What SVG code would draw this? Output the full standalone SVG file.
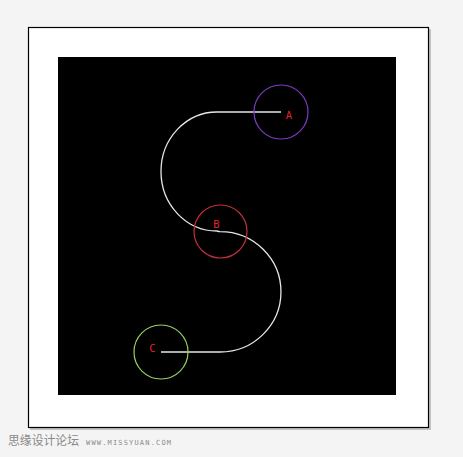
<svg xmlns="http://www.w3.org/2000/svg" width="463" height="457" viewBox="0 0 463 457">
<style>
.lbl{font-family:"DejaVu Sans Mono","Liberation Mono",monospace;font-size:10.5px;fill:#e0262a;text-anchor:middle}
.ring{fill:none;stroke-width:1.2}
.wire{fill:none;stroke:#e6e6e6;stroke-width:1.3}
</style>
<rect width="463" height="457" fill="#f4f4f4"/>
<rect x="30" y="29" width="401" height="401" fill="#c4c4c4"/>
<rect x="28.5" y="27.5" width="400" height="400" fill="#ffffff" stroke="#000" stroke-width="1.2"/>
<rect x="58" y="57" width="338" height="338" fill="#000"/>
<g id="connectors">
<path class="wire" d="M281,112 H217 A56,59.5 0 0 0 217,231 Q219,231.5 220,231.6 A61,60.2 0 0 1 220,352 H161"/>
</g>
<g id="A">
<circle class="ring" cx="281" cy="112" r="27" stroke="#7a3cc4"/>
<text class="lbl" x="289" y="119">A</text>
</g>
<g id="B">
<circle class="ring" cx="220.5" cy="231.5" r="26.5" stroke="#c0303a"/>
<text class="lbl" x="216.5" y="228">B</text>
</g>
<g id="C">
<circle class="ring" cx="161" cy="352" r="27" stroke="#98d060"/>
<text class="lbl" x="152.5" y="352">C</text>
</g>
<text x="8" y="445" font-family="'Noto Sans CJK SC',sans-serif" font-size="12" fill="#8a8a8a" textLength="71" lengthAdjust="spacingAndGlyphs">思缘设计论坛</text>
<text x="86" y="445" font-family="'DejaVu Sans Mono',monospace" font-size="7" fill="#8a8a8a" textLength="85">WWW.MISSYUAN.COM</text>
</svg>
